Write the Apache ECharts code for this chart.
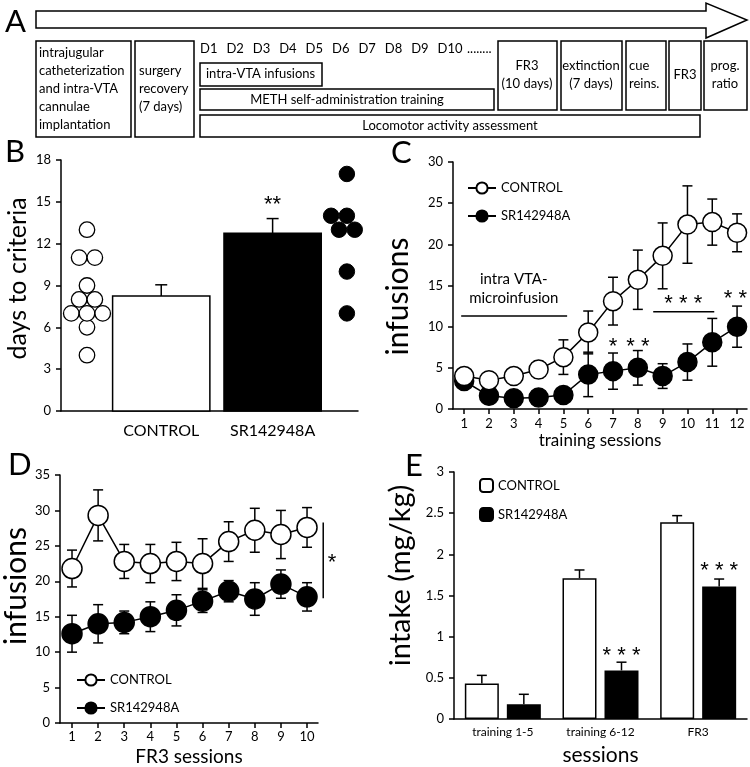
<!DOCTYPE html>
<html><head><meta charset="utf-8">
<script src="https://cdn.jsdelivr.net/npm/echarts@6/dist/echarts.min.js"></script>
<style>html,body{margin:0;padding:0;background:#fff}#c{width:750px;height:767px}</style>
</head><body><div id="c"></div>
<script>
const FONT = 'Lato';
const STAR_FONT = 'Liberation Sans';

// ---------- Panel A (protocol timeline) ----------
const aDays = ['D1','D2','D3','D4','D5','D6','D7','D8','D9','D10'];

// ---------- Panel B ----------
const bGroups = ['CONTROL', 'SR142948A'];
const bMeans = [8.25, 12.75];
const bSem = [0.8, 1.05];
const bCtrlDots = [13, 11, 11, 9, 8, 8, 7, 7, 7, 6, 4];
const bSrDots = [17, 14, 14, 14, 13, 13, 10, 7];
const bSig = ['', '**'];

// ---------- Panel C ----------
const cSessions = [1,2,3,4,5,6,7,8,9,10,11,12];
const cCtrl    = [4.0, 3.5, 4.0, 4.8, 6.3, 9.3, 13.1, 15.7, 18.6, 22.4, 22.7, 21.4];
const cCtrlErr = [0.4, 0.4, 0.5, 1.0, 2.1, 2.6, 2.9, 3.6, 4.0, 4.7, 2.8, 2.3];
const cSr      = [3.4, 1.6, 1.3, 1.4, 1.7, 4.2, 4.6, 5.0, 4.0, 5.7, 8.1, 10.0];
const cSrErr   = [0.5, 0.4, 0.3, 0.3, 0.4, 2.7, 2.2, 2.1, 1.5, 2.2, 2.9, 2.5];
const cStars   = [[7, 8.1, '*'], [8, 8.1, '* *'], [9.83, 13.4, '* * *'], [11.93, 14.0, '* *']];
const cLines   = [[0.88, 5.15, 11.3], [8.62, 11.08, 11.8]];
const cPhase   = [[3.0, 14.6, 'intra VTA-\nmicroinfusion']];

// ---------- Panel D ----------
const dSessions = [1,2,3,4,5,6,7,8,9,10];
const dCtrl    = [21.8, 29.3, 22.8, 22.5, 22.8, 22.5, 25.6, 27.2, 26.6, 27.6];
const dCtrlErr = [2.6, 3.6, 2.4, 2.7, 2.7, 3.5, 2.8, 3.1, 3.4, 2.8];
const dSr      = [12.6, 14.0, 14.2, 15.0, 15.9, 17.2, 18.6, 17.5, 19.6, 17.8];
const dSrErr   = [2.6, 2.7, 1.6, 2.1, 2.2, 1.6, 1.5, 2.3, 2.0, 2.0];
const dSigLine = [[10.62, 17.6, 28.3]];
const dStars   = [[10.96, 23.3, '*']];

// ---------- Panel E ----------
const eGroups  = ['training 1-5', 'training 6-12', 'FR3'];
const eCtrl    = [0.43, 1.71, 2.39];
const eCtrlErr = [0.10, 0.10, 0.08];
const eSr      = [0.18, 0.59, 1.61];
const eSrErr   = [0.12, 0.10, 0.09];
const eStars   = [[1, 0.82, '* * *'], [2, 1.86, '* * *']];

// ---------- layout constants ----------
const B_POS = {ctrlDots: 0, ctrlBar: 1, srBar: 2.5, srDots: 3.5};
const B_BAR_W = 1.31;
const B_DOT_STEP = 0.212;
const E_BAR_W = 34, E_BAR_GAP = 8;
const STAR_SIZE = 22;

const chart = echarts.init(document.getElementById('c'), null, {renderer: 'canvas'});

function swarm(vals, cx) {
  const groups = {};
  vals.forEach(v => { (groups[v] = groups[v] || []).push(v); });
  const out = [];
  Object.keys(groups).forEach(k => {
    const n = groups[k].length;
    groups[k].forEach((v, i) => out.push([cx + (i - (n - 1) / 2) * B_DOT_STEP, v]));
  });
  return out;
}

const axisLineStyle = {onZero: false, lineStyle: {color: '#000', width: 1.5}};
const yAxisLine = {show: true, onZero: false, lineStyle: {color: '#000', width: 1.5}};
const tickStyle = {show: true, inside: false, length: 5, lineStyle: {color: '#000', width: 1.5}};
const labelStyle = (m) => ({color: '#000', fontSize: 13, fontFamily: FONT, margin: m});

function errRender(both, cap, xoffPx) {
  return function (params, api) {
    const x = api.value(0), y = api.value(1), e = api.value(2);
    const c = api.coord([x, y]);
    const hi = api.coord([x, y + e]);
    const lo = api.coord([x, both ? y - e : y]);
    const px = c[0] + (xoffPx || 0);
    const st = {stroke: '#000', lineWidth: 1.5};
    const ch = [
      {type: 'line', shape: {x1: px, y1: lo[1], x2: px, y2: hi[1]}, style: st},
      {type: 'line', shape: {x1: px - cap, y1: hi[1], x2: px + cap, y2: hi[1]}, style: st}
    ];
    if (both) ch.push({type: 'line', shape: {x1: px - cap, y1: lo[1], x2: px + cap, y2: lo[1]}, style: st});
    return {type: 'group', children: ch};
  };
}
function mkText(arr, xi, yi, size, xoff, isStar) {
  const texts = arr.map(a => a[2]);
  return {type: 'custom', xAxisIndex: xi, yAxisIndex: yi, z: 6, silent: true,
    data: arr.map(a => [a[0], a[1]]),
    renderItem: function (params, api) {
      const c = api.coord([api.value(0), api.value(1)]);
      return {type: 'text', x: c[0] + (xoff || 0), y: c[1] + (isStar ? size * 0.22 : 0),
        style: {text: texts[params.dataIndex], font: size + 'px ' + (isStar ? STAR_FONT : FONT), fill: '#000',
          align: 'center', verticalAlign: 'middle', lineHeight: size + 4}};
    }};
}
function mkHLines(arr, xi, yi) {
  return {type: 'custom', xAxisIndex: xi, yAxisIndex: yi, silent: true,
    data: arr,
    renderItem: function (params, api) {
      const a = api.coord([api.value(0), api.value(2)]);
      const b = api.coord([api.value(1), api.value(2)]);
      return {type: 'line', shape: {x1: a[0], y1: a[1], x2: b[0], y2: b[1]}, style: {stroke: '#000', lineWidth: 1.5}};
    }};
}

// Panel A graphics
const boxStyle = {stroke: '#000', lineWidth: 1.5, fill: 'none'};
function rect(x, y, w, h) { return {type: 'rect', shape: {x, y, width: w, height: h}, style: boxStyle, silent: true}; }
function txt(x, y, t, align) {
  return {type: 'text', x, y, silent: true,
    style: {text: t, font: '13px ' + FONT, fill: '#000', align: align || 'left', verticalAlign: 'middle', lineHeight: 18}};
}
const graphicA = [
  {type: 'polygon', silent: true, shape: {points: [[36,11],[706,11],[706,3],[747,20],[706,38],[706,28],[36,28]]}, style: boxStyle},
  rect(36, 41, 95, 96), rect(135, 41, 59, 96),
  rect(200, 63, 122, 23), rect(200, 89, 294, 21), rect(200, 115, 500, 22),
  rect(498, 41, 59, 69), rect(561, 41, 61, 69), rect(626, 41, 40, 69), rect(669, 41, 32, 69), rect(704, 41, 43, 69),
  txt(39, 89, 'intrajugular\ncatheterization\nand intra-VTA\ncannulae\nimplantation'),
  txt(139, 89, 'surgery\nrecovery\n(7 days)'),
  txt(206, 74, 'intra-VTA infusions'),
  txt(347, 100, 'METH self-administration training', 'center'),
  txt(450, 126, 'Locomotor activity assessment', 'center'),
  txt(527, 75, 'FR3\n(10 days)', 'center'),
  txt(591, 75, 'extinction\n(7 days)', 'center'),
  txt(629, 75, 'cue\nreins.'),
  txt(685, 75, 'FR3', 'center'),
  txt(725, 75, 'prog.\nratio', 'center'),
  txt(200 + aDays.length * 26.4 + 3, 49, '........')
].concat(aDays.map((d, i) => txt(200 + i * 26.4, 49, d)));

const option = {
  animation: false,
  backgroundColor: '#fff',
  textStyle: {fontFamily: FONT, color: '#000'},
  title: [
    {text: 'A', left: 5, top: 6},
    {text: 'B', left: 5, top: 136},
    {text: 'C', left: 391, top: 137},
    {text: 'D', left: 8, top: 449},
    {text: 'E', left: 405, top: 450}
  ].map(t => Object.assign(t, {padding: 0, textStyle: {fontSize: 31, fontWeight: 'normal', fontFamily: FONT, color: '#000'}})),
  graphic: graphicA,
  legend: [
    {orient: 'vertical', left: 462, top: 176, itemWidth: 28, itemHeight: 14, itemGap: 14, selectedMode: false,
      data: ['C:CONTROL', 'C:SR142948A'], formatter: n => n.split(':')[1],
      textStyle: {fontSize: 13, fontFamily: FONT, color: '#000', lineHeight: 14}},
    {orient: 'vertical', left: 71, top: 668, itemWidth: 28, itemHeight: 14, itemGap: 14, selectedMode: false,
      data: ['D:CONTROL', 'D:SR142948A'], formatter: n => n.split(':')[1],
      textStyle: {fontSize: 13, fontFamily: FONT, color: '#000', lineHeight: 14}},
    {orient: 'vertical', left: 474, top: 473, itemWidth: 13, itemHeight: 13, itemGap: 14, selectedMode: false,
      data: ['E:CONTROL', 'E:SR142948A'], formatter: n => n.split(':')[1],
      textStyle: {fontSize: 13, fontFamily: FONT, color: '#000', lineHeight: 14}}
  ],
  grid: [
    {left: 61, top: 160, width: 297, height: 251},
    {left: 453, top: 162, width: 294, height: 247},
    {left: 60, top: 475, width: 258, height: 249},
    {left: 454, top: 472, width: 293, height: 252}
  ],
  xAxis: [
    {gridIndex: 0, type: 'value', min: -0.35, max: 3.65, axisLine: axisLineStyle, axisTick: {show: false}, axisLabel: {show: false}, splitLine: {show: false}},
    {gridIndex: 1, type: 'value', min: 0.55, max: 12.4, axisLine: axisLineStyle,
      axisTick: Object.assign({customValues: cSessions}, tickStyle),
      axisLabel: Object.assign({customValues: cSessions}, labelStyle(8)), splitLine: {show: false},
      name: 'training sessions', nameLocation: 'middle', nameGap: 23, nameTextStyle: {fontSize: 17, fontFamily: FONT, color: '#000'}},
    {gridIndex: 2, type: 'value', min: 0.54, max: 10.42, axisLine: axisLineStyle,
      axisTick: Object.assign({customValues: dSessions}, tickStyle),
      axisLabel: Object.assign({customValues: dSessions}, labelStyle(7)), splitLine: {show: false},
      name: 'FR3 sessions', nameLocation: 'middle', nameGap: 24, nameTextStyle: {fontSize: 19, fontFamily: FONT, color: '#000'}},
    {gridIndex: 3, type: 'category', data: eGroups, axisLine: axisLineStyle, axisTick: {show: false},
      axisLabel: Object.assign(labelStyle(7), {fontSize: 12}), splitLine: {show: false},
      name: 'sessions', nameLocation: 'middle', nameGap: 26, nameTextStyle: {fontSize: 21, fontFamily: FONT, color: '#000'}}
  ],
  yAxis: [
    {gridIndex: 0, type: 'value', min: 0, max: 18, interval: 3, axisLine: yAxisLine, axisTick: tickStyle,
      axisLabel: labelStyle(10), splitLine: {show: false},
      name: 'days to criteria', nameLocation: 'middle', nameGap: 31,
      nameTextStyle: {fontSize: 25, fontFamily: FONT, color: '#000', padding: [0, 0, 0, 14]}},
    {gridIndex: 1, type: 'value', min: 0, max: 30, interval: 5, axisLine: yAxisLine, axisTick: tickStyle,
      axisLabel: labelStyle(10), splitLine: {show: false},
      name: 'infusions', nameLocation: 'middle', nameGap: 40,
      nameTextStyle: {fontSize: 30, fontFamily: FONT, color: '#000', padding: [0, 22, 0, 0]}},
    {gridIndex: 2, type: 'value', min: 0, max: 35, interval: 5, axisLine: yAxisLine, axisTick: tickStyle,
      axisLabel: labelStyle(10), splitLine: {show: false},
      name: 'infusions', nameLocation: 'middle', nameGap: 29,
      nameTextStyle: {fontSize: 30, fontFamily: FONT, color: '#000', padding: [0, 0, 0, 26]}},
    {gridIndex: 3, type: 'value', min: 0, max: 3, interval: 0.5, axisLine: yAxisLine, axisTick: tickStyle,
      axisLabel: labelStyle(10), splitLine: {show: false},
      name: 'intake (mg/kg)', nameLocation: 'middle', nameGap: 39,
      nameTextStyle: {fontSize: 29, fontFamily: FONT, color: '#000', padding: [0, 0, 0, 40]}}
  ],
  series: [
    // ---- B ----
    {type: 'custom', xAxisIndex: 0, yAxisIndex: 0, silent: true, z: 3,
      data: bGroups.map((g, i) => [i === 0 ? B_POS.ctrlBar : B_POS.srBar, bMeans[i], bSem[i], i]),
      renderItem: function (params, api) {
        const x = api.value(0), v = api.value(1), e = api.value(2), i = api.value(3);
        const tl = api.coord([x - B_BAR_W / 2, v]);
        const br = api.coord([x + B_BAR_W / 2, 0]);
        const top = api.coord([x, v + e]);
        const st = {stroke: '#000', lineWidth: 1.5};
        return {type: 'group', children: [
          {type: 'line', shape: {x1: top[0], y1: tl[1], x2: top[0], y2: top[1]}, style: st},
          {type: 'line', shape: {x1: top[0] - 6, y1: top[1], x2: top[0] + 6, y2: top[1]}, style: st},
          {type: 'rect', shape: {x: tl[0], y: tl[1], width: br[0] - tl[0], height: br[1] - tl[1]},
            style: {fill: i ? '#000' : '#fff', stroke: '#000', lineWidth: 1.5}},
          {type: 'text', x: top[0], y: br[1] + 12,
            style: {text: bGroups[i], font: '16px ' + FONT, fill: '#000', align: 'center', verticalAlign: 'top'}},
          {type: 'text', x: top[0], y: api.coord([x, 15.1])[1] + STAR_SIZE * 0.22,
            style: {text: bSig[i], font: STAR_SIZE + 'px ' + STAR_FONT, fill: '#000', align: 'center', verticalAlign: 'middle'}}
        ]};
      }},
    {type: 'scatter', name: 'B:CONTROL', xAxisIndex: 0, yAxisIndex: 0, symbolSize: 15.5, z: 4,
      itemStyle: {color: '#fff', borderColor: '#000', borderWidth: 1.3, opacity: 1},
      data: swarm(bCtrlDots, B_POS.ctrlDots)},
    {type: 'scatter', name: 'B:SR142948A', xAxisIndex: 0, yAxisIndex: 0, symbolSize: 15.5, z: 4,
      itemStyle: {color: '#000', borderColor: '#000', borderWidth: 1, opacity: 1},
      data: swarm(bSrDots, B_POS.srDots)},

    // ---- C ----
    {type: 'custom', xAxisIndex: 1, yAxisIndex: 1, silent: true, z: 2,
      data: cSessions.map((s, i) => [s, cCtrl[i], cCtrlErr[i]]), renderItem: errRender(true, 5)},
    {type: 'custom', xAxisIndex: 1, yAxisIndex: 1, silent: true, z: 2,
      data: cSessions.map((s, i) => [s, cSr[i], cSrErr[i]]), renderItem: errRender(true, 5)},
    {type: 'line', name: 'C:SR142948A', xAxisIndex: 1, yAxisIndex: 1, z: 4,
      symbol: 'circle', symbolSize: 19, lineStyle: {color: '#000', width: 1.5},
      itemStyle: {color: '#000', borderColor: '#000', borderWidth: 1.5},
      data: cSessions.map((s, i) => [s, cSr[i]])},
    {type: 'line', name: 'C:CONTROL', xAxisIndex: 1, yAxisIndex: 1, z: 5,
      symbol: 'circle', symbolSize: 19, lineStyle: {color: '#000', width: 1.5},
      itemStyle: {color: '#fff', borderColor: '#000', borderWidth: 1.5},
      data: cSessions.map((s, i) => [s, cCtrl[i]])},
    mkText(cStars, 1, 1, STAR_SIZE, 0, true),
    mkText(cPhase, 1, 1, 15, 0, false),
    mkHLines(cLines, 1, 1),

    // ---- D ----
    {type: 'custom', xAxisIndex: 2, yAxisIndex: 2, silent: true, z: 2,
      data: dSessions.map((s, i) => [s, dCtrl[i], dCtrlErr[i]]), renderItem: errRender(true, 5)},
    {type: 'custom', xAxisIndex: 2, yAxisIndex: 2, silent: true, z: 2,
      data: dSessions.map((s, i) => [s, dSr[i], dSrErr[i]]), renderItem: errRender(true, 5)},
    {type: 'line', name: 'D:SR142948A', xAxisIndex: 2, yAxisIndex: 2, z: 4,
      symbol: 'circle', symbolSize: 20, lineStyle: {color: '#000', width: 1.5},
      itemStyle: {color: '#000', borderColor: '#000', borderWidth: 1.5},
      data: dSessions.map((s, i) => [s, dSr[i]])},
    {type: 'line', name: 'D:CONTROL', xAxisIndex: 2, yAxisIndex: 2, z: 5,
      symbol: 'circle', symbolSize: 20, lineStyle: {color: '#000', width: 1.5},
      itemStyle: {color: '#fff', borderColor: '#000', borderWidth: 1.5},
      data: dSessions.map((s, i) => [s, dCtrl[i]])},
    {type: 'custom', xAxisIndex: 2, yAxisIndex: 2, silent: true,
      data: dSigLine,
      renderItem: function (params, api) {
        const a = api.coord([api.value(0), api.value(1)]);
        const b = api.coord([api.value(0), api.value(2)]);
        return {type: 'line', shape: {x1: a[0], y1: a[1], x2: b[0], y2: b[1]}, style: {stroke: '#000', lineWidth: 1.5}};
      }},
    mkText(dStars, 2, 2, STAR_SIZE, 0, true),

    // ---- E ----
    {type: 'bar', name: 'E:CONTROL', xAxisIndex: 3, yAxisIndex: 3, barWidth: E_BAR_W, barGap: (E_BAR_GAP / E_BAR_W * 100) + '%',
      itemStyle: {color: '#fff', borderColor: '#000', borderWidth: 1.5}, data: eCtrl, z: 3},
    {type: 'bar', name: 'E:SR142948A', xAxisIndex: 3, yAxisIndex: 3, barWidth: E_BAR_W,
      itemStyle: {color: '#000', borderColor: '#000', borderWidth: 1.5}, data: eSr, z: 3},
    {type: 'custom', xAxisIndex: 3, yAxisIndex: 3, silent: true, z: 2,
      data: eGroups.map((g, i) => [i, eCtrl[i], eCtrlErr[i]]), renderItem: errRender(false, 5, -(E_BAR_W + E_BAR_GAP) / 2)},
    {type: 'custom', xAxisIndex: 3, yAxisIndex: 3, silent: true, z: 2,
      data: eGroups.map((g, i) => [i, eSr[i], eSrErr[i]]), renderItem: errRender(false, 5, (E_BAR_W + E_BAR_GAP) / 2)},
    mkText(eStars, 3, 3, STAR_SIZE, (E_BAR_W + E_BAR_GAP) / 2, true)
  ]
};
chart.setOption(option);
</script>
</body></html>
